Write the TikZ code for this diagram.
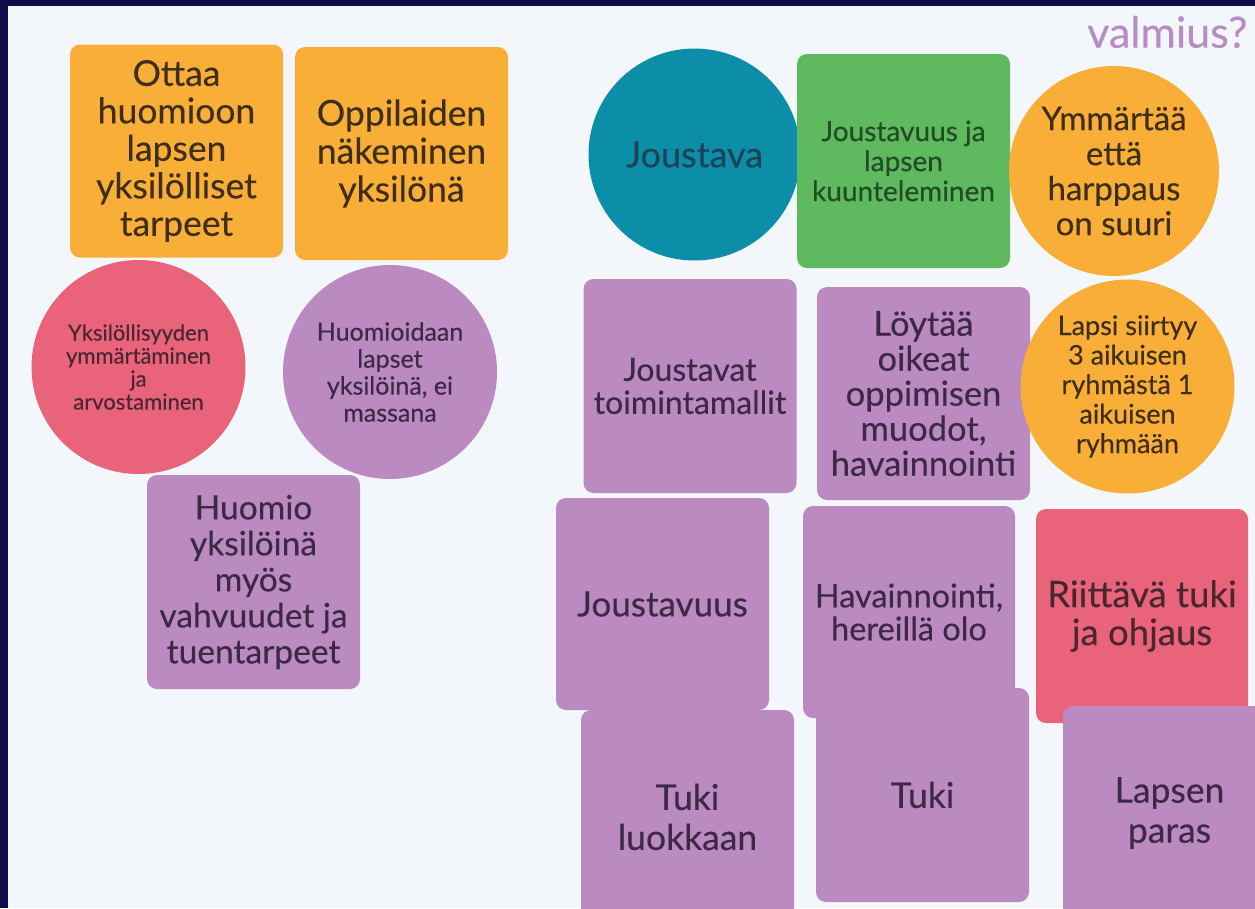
\documentclass[tikz,border=0pt]{standalone}
\usepackage{fontspec}
\setmainfont{Lato}[FakeBold=0.3]
\definecolor{navy}{HTML}{100B4A}
\definecolor{bg}{HTML}{F3F6FA}
\definecolor{orng}{HTML}{F9AF37}
\definecolor{rred}{HTML}{E9647A}
\definecolor{purp}{HTML}{BA8AC1}
\definecolor{teal}{HTML}{0C8EA9}
\definecolor{grn}{HTML}{5EB95F}
\definecolor{torng}{HTML}{3F2E1C}
\definecolor{tred}{HTML}{4A2630}
\definecolor{tpurp}{HTML}{3D2845}
\definecolor{tteal}{HTML}{1B4454}
\definecolor{tgrn}{HTML}{234B26}
\definecolor{valm}{HTML}{B78DC4}
\tikzset{
  card/.style={rounded corners=10pt, inner sep=0pt, minimum width=213pt, minimum height=213pt, align=center},
  disc/.style={circle, inner sep=0pt, align=center},
  obox/.style={card, fill=orng, text=torng},
  pbox/.style={card, fill=purp, text=tpurp},
  rbox/.style={card, fill=rred, text=tred},
  gbox/.style={card, fill=grn, text=tgrn},
  fs/.style n args={2}{font=\fontsize{#1}{#2}\selectfont},
}
\begin{document}
\begin{tikzpicture}[x=1pt,y=-1pt]
\clip (0,0) rectangle (1255,908);
\fill[navy] (0,0) rectangle (1255,908);
\fill[bg] (8,6) rectangle (1255,908);
\node[anchor=east, text=valm, fs={43}{48}] (valmius) at (1251,32) {valmius?};
% left cluster
\node[obox, fs={35.5}{37.5}] (ottaa) at (176.5,151) {Ottaa\\huomioon\\lapsen\\yksilölliset\\tarpeet};
\node[obox, fs={35.5}{38}] (oppil) at (401.5,153.5) {Oppilaiden\\näkeminen\\yksilönä};
\node[disc, fill=rred, text=tred, minimum size=214pt, fs={22}{23}] (yks) at (138.5,367) {Yksilöllisyyden\\ymmärtäminen\\ja\\arvostaminen};
\node[disc, fill=purp, text=tpurp, minimum size=214pt, fs={25}{27}] (huom) at (390,372) {Huomioidaan\\lapset\\yksilöinä, ei\\massana};
\node[pbox, minimum height=214pt, fs={33.5}{36}] (huomio) at (253.5,582) {Huomio\\yksilöinä\\myös\\vahvuudet ja\\tuentarpeet};
% right cluster, row 1
\node[disc, fill=teal, text=tteal, minimum size=212pt, fs={36}{40}] (joustava) at (694.5,154.5) {Joustava};
\node[gbox, minimum height=214pt, fs={28}{30}] (kuunt) at (903.5,161) {Joustavuus ja\\lapsen\\kuunteleminen};
\node[disc, fill=orng, text=torng, minimum size=210pt, fs={33}{35}] (ymm) at (1114,171) {Ymmärtää\\että\\harppaus\\on suuri};
% row 2
\node[pbox, minimum height=214pt, fs={32}{33}] (toim) at (690,386) {Joustavat\\toimintamallit};
\node[pbox, fs={34.5}{35}] (loyt) at (923.5,393.5) {Löytää\\oikeat\\oppimisen\\muodot,\\havainnointi};
\node[disc, fill=orng, text=torng, minimum size=214pt, fs={27}{29.5}] (lapsi) at (1127.5,386.5) {Lapsi siirtyy\\3 aikuisen\\ryhmästä 1\\aikuisen\\ryhmään};
% row 3
\node[pbox, minimum height=212pt, fs={35}{38}] (joustavuus) at (662.5,604) {Joustavuus};
\node[pbox, minimum width=212pt, minimum height=212pt, fs={32.5}{33}] (hav) at (909,612) {Havainnointi,\\hereillä olo};
\node[rbox, minimum width=212pt, minimum height=214pt, fs={36.5}{38}] (riit) at (1142,616) {Riittävä tuki\\ja ohjaus};
% row 4
\node[pbox, minimum height=214pt, fs={35.5}{40}] (luokka) at (687.5,817) {Tuki\\luokkaan};
\node[pbox, minimum height=214pt, fs={35.5}{40}] (tuki) at (922.5,795) {Tuki};
\node[pbox, minimum height=214pt, fs={35.5}{40}] (paras) at (1169.5,813) {Lapsen\\paras};
\end{tikzpicture}
\end{document}
